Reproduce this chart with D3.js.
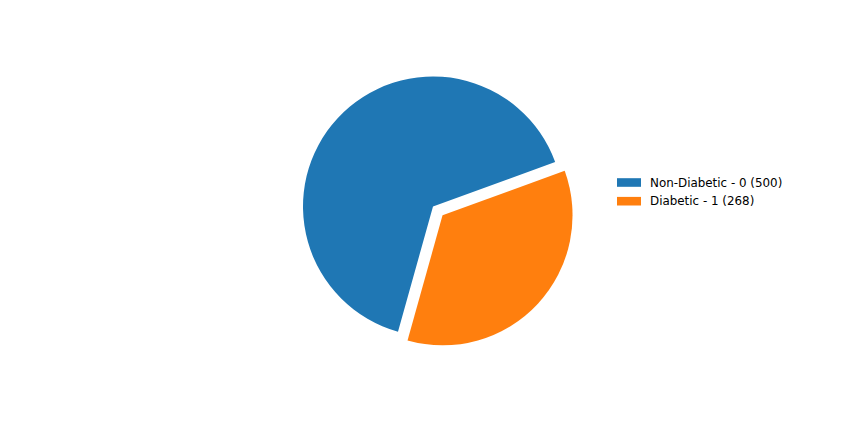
<!DOCTYPE html>
<html><head><meta charset="utf-8">
<script src="https://cdn.jsdelivr.net/npm/d3@7"></script>
<style>body{margin:0;background:#fff}svg{display:block}</style>
</head><body>
<svg id="c" width="864" height="432"></svg>
<script>
const labels = ["Non-Diabetic - 0", "Diabetic - 1"];
const counts = [500, 268];
const colors = ["#1f77b4", "#ff7f0e"];
const explode = [0, 0.1];

const svg = d3.select("#c");
const cx = 433, cy = 206.5, R = 130;
const deg = Math.PI / 180;
const data = labels.map((l, i) => ({label: l, value: counts[i], color: colors[i], explode: explode[i]}));
// matplotlib counterclockwise from 20deg => d3 clockwise from 70deg in reverse order
const pie = d3.pie().sort(null).value(d => d.value).startAngle(70 * deg).endAngle(430 * deg);
const arcs = pie(data.slice().reverse());
const arc = d3.arc().innerRadius(0).outerRadius(R);
const g = svg.append("g").attr("transform", `translate(${cx},${cy})`);
g.selectAll("path").data(arcs).join("path")
  .attr("d", arc)
  .attr("fill", d => d.data.color)
  .attr("transform", d => {
    const a = (d.startAngle + d.endAngle) / 2;
    const off = d.data.explode * R;
    return `translate(${Math.sin(a) * off},${-Math.cos(a) * off})`;
  });

const leg = svg.append("g").attr("transform", "translate(617,182.5)");
const rows = leg.selectAll("g").data(data).join("g")
  .attr("transform", (d, i) => `translate(0,${i * 18.7})`);
rows.append("rect").attr("x", 0).attr("y", -4.3).attr("width", 24).attr("height", 8.6).attr("fill", d => d.color);
rows.append("text").attr("x", 33).attr("y", 0).attr("dominant-baseline", "central")
  .attr("font-family", "DejaVu Sans").attr("font-size", 11.9).attr("fill", "#000")
  .text(d => `${d.label} (${d.value})`);
</script>
</body></html>
